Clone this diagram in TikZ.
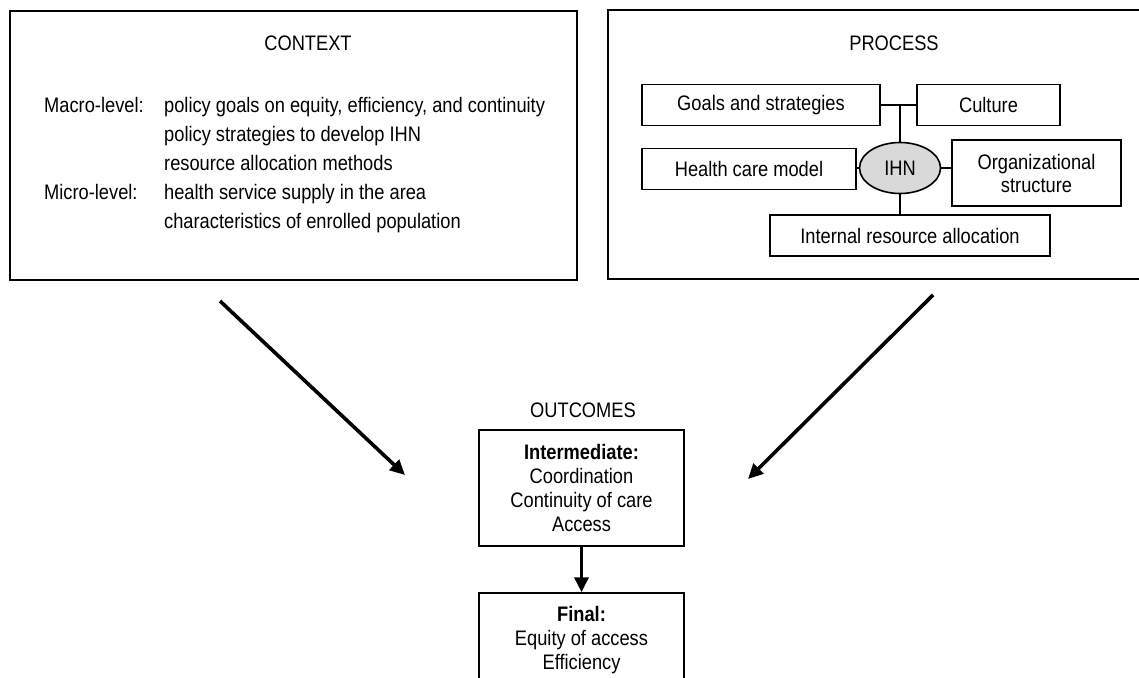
\documentclass[tikz,border=0pt]{standalone}
\usepackage{fontspec}
\setmainfont{Liberation Sans}[FakeStretch=0.87]
\usetikzlibrary{shapes.geometric}
\usetikzlibrary{arrows.meta}

\begin{document}
\begin{tikzpicture}[x=1pt,y=-1pt,
  frame/.style={draw,line width=2.2pt,inner sep=0pt},
  item/.style={draw,line width=1.6pt,inner sep=0pt,minimum height=41pt,align=center,font=\fontsize{21}{23}\selectfont},
  result/.style={draw,line width=1.5pt,inner sep=0pt,minimum width=205pt,align=center,font=\fontsize{21}{23.7}\selectfont},
  heading/.style={inner sep=0pt,font=\fontsize{21}{22}\selectfont},
  link/.style={line width=1.3pt},
  bigarrow/.style={line width=3.6pt,-{Triangle[length=15pt,width=14pt]}}]
\useasboundingbox (0,0) rectangle (1139,677);
% context and process frames
\node[frame,minimum width=567pt,minimum height=269pt] (contextbox) at (293.5,145.5) {};
\node[frame,minimum width=545pt,minimum height=269pt] (processbox) at (880.5,144.5) {};
\node[heading] (context) at (308,43) {CONTEXT};
\node[heading,anchor=base west,font=\fontsize{21}{29}\selectfont] (levels) at (44,112)
  {\begin{tabular}[t]{@{}p{120pt}@{}l@{}}
   Macro-level: & policy goals on equity, efficiency, and continuity\\
                & policy strategies to develop IHN\\
                & resource allocation methods\\
   Micro-level: & health service supply in the area\\
                & characteristics of enrolled population
   \end{tabular}};
% process
\node[heading] (process) at (894,43) {PROCESS};
\node[item,minimum width=238pt] (goals) at (761,105) {Goals and strategies};
\node[item,minimum width=143pt] (culture) at (988.5,105) {Culture};
\node[item,minimum width=214pt] (health) at (749,169) {Health care model};
\node[ellipse,draw,line width=1.6pt,fill=gray!30,minimum width=81pt,minimum height=51pt,inner sep=0pt,
  font=\fontsize{21}{22}\selectfont] (ihn) at (900,168) {IHN};
\node[item,minimum width=169pt,minimum height=66pt] (org) at (1036.5,173) {Organizational\\structure};
\node[item,minimum width=280pt] (alloc) at (910,235.5) {Internal resource allocation};
\draw[link] (goals.east) -- (culture.west);
\draw[link] (ihn.north) -- (ihn.north |- goals.east);
\draw[link] (ihn.west -| health.east) -- (ihn.west);
\draw[link] (ihn.east) -- (ihn.east -| org.west);
\draw[link] (ihn.south) -- (ihn.south |- alloc.north);
% outcomes
\node[heading] (outcomes) at (583,410) {OUTCOMES};
\node[result,minimum height=116pt] (inter) at (581.5,488)
  {\textbf{Intermediate:}\\Coordination\\Continuity of care\\Access};
\node[result,minimum height=94pt] (final) at (581.5,640)
  {\textbf{Final:}\\Equity of access\\Efficiency};
\draw[bigarrow] (inter.south) -- (final.north);
\coordinate (ctxfrom) at (220,301);
\coordinate (ctxto) at (405,475);
\coordinate (procfrom) at (933,295);
\coordinate (procto) at (748,479);
\draw[bigarrow] (ctxfrom) -- (ctxto);
\draw[bigarrow] (procfrom) -- (procto);
\end{tikzpicture}
\end{document}
